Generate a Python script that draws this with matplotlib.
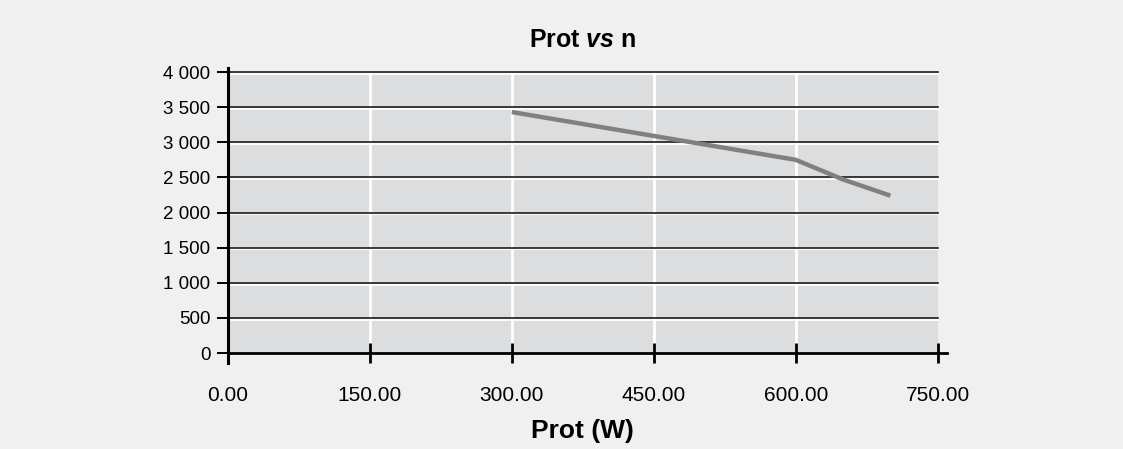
import matplotlib.pyplot as plt
import matplotlib.transforms as mtransforms

plt.rcParams['font.family'] = ['Liberation Sans', 'DejaVu Sans']
plt.rcParams['mathtext.fontset'] = 'custom'
plt.rcParams['mathtext.it'] = 'Liberation Sans:italic:bold'
plt.rcParams['mathtext.rm'] = 'Liberation Sans:bold'

# data
prot = [300, 450, 600, 650, 700]
speed = [3430, 3090, 2750, 2470, 2240]
x_ticks = [0, 150, 300, 450, 600, 750]
y_ticks = [0, 500, 1000, 1500, 2000, 2500, 3000, 3500, 4000]

fig = plt.figure(figsize=(11.23, 4.49), dpi=100, facecolor='#f0f0f0')
ax = fig.add_axes([0.203, 0.2138, 0.632, 0.6258], facecolor='#dcdddf')

ax.set_xlim(0, 750)
ax.set_ylim(0, 4000)

# vertical white grid
for xv in x_ticks[1:-1]:
    ax.axvline(xv, color='white', lw=2, zorder=1)

# horizontal grid: dark line with a white line right below
white_off = mtransforms.offset_copy(ax.transData, fig=fig, x=0, y=-1.8, units='dots')
for yv in y_ticks[1:]:
    ax.plot([0, 750], [yv, yv], color='white', lw=1.3, transform=white_off, zorder=2, clip_on=False)
    ax.plot([0, 750], [yv, yv], color='#1c1c1c', lw=1.2, zorder=3, clip_on=False)

ax.plot(prot, speed, color='#808080', lw=3.2, zorder=4, solid_capstyle='butt')

for s in ['top', 'right']:
    ax.spines[s].set_visible(False)
ax.spines['left'].set_linewidth(2.2)
ax.spines['bottom'].set_linewidth(2.0)
ax.spines['left'].set_bounds(-140, 4060)
ax.spines['bottom'].set_bounds(0, 760)
ax.spines['left'].set_zorder(5)
ax.spines['bottom'].set_zorder(5)

ax.set_xticks(x_ticks)
ax.set_xticklabels([f'{v:.2f}' for v in x_ticks])
ax.set_yticks(y_ticks)
ax.set_yticklabels([f'{v:,}'.replace(',', ' ') for v in y_ticks])
ax.tick_params(axis='x', direction='inout', length=15, width=2.0, pad=16.5, labelsize=15)
ax.tick_params(axis='y', direction='out', length=8, width=1.4, pad=4.5, labelsize=13.5)

ax.set_title(r'Prot $\it{vs}$ n', fontsize=18, fontweight='bold', pad=18)
ax.set_xlabel('Prot (W)', fontsize=19, fontweight='bold', labelpad=9.5)

fig.savefig('out.png', dpi=100, facecolor=fig.get_facecolor())
